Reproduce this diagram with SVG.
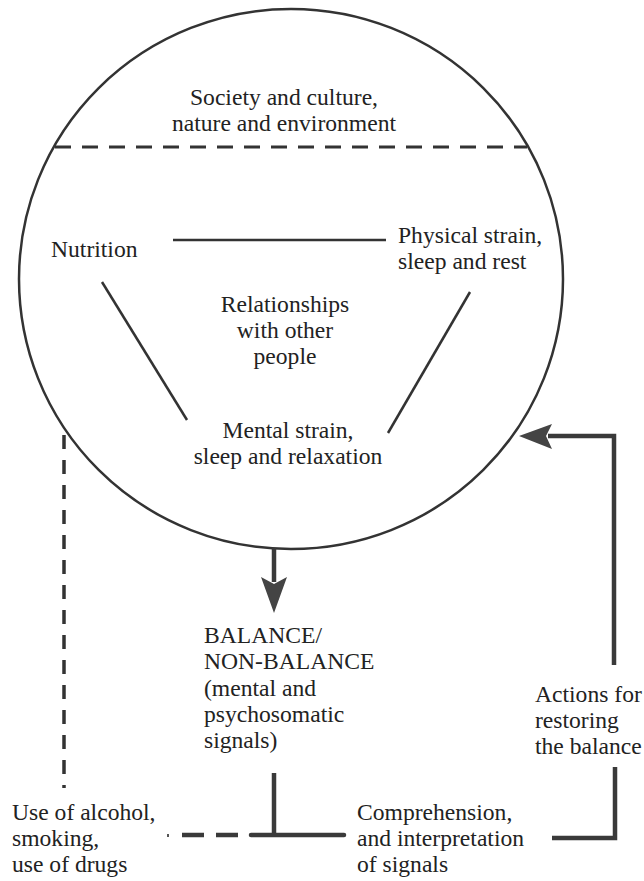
<svg xmlns="http://www.w3.org/2000/svg" width="644" height="881" viewBox="0 0 644 881">
<style>
text{font-family:"Liberation Serif","Times New Roman",serif;font-size:23.6px;fill:#222}
.c{text-anchor:middle}
.ln{stroke:#333;stroke-width:2.5;fill:none}
.th{stroke:#3a3a3a;stroke-width:4.5;fill:none}
.ds{stroke:#333;stroke-width:3.5;fill:none;stroke-dasharray:14 11}
.ah{fill:#444;stroke:none}
</style>
<rect width="644" height="881" fill="#fff"/>
<g id="circle">
<ellipse class="ln" cx="291" cy="279" rx="272" ry="270"/>
</g>
<g id="env">
<text class="c" x="284" y="105">Society and culture,</text>
<text class="c" x="284" y="131">nature and environment</text>
</g>
<g id="nutrition"><text x="51" y="257">Nutrition</text></g>
<g id="physical">
<text x="398" y="243">Physical strain,</text>
<text x="398" y="269">sleep and rest</text>
</g>
<g id="relationships">
<text class="c" x="285" y="312">Relationships</text>
<text class="c" x="285" y="338">with other</text>
<text class="c" x="285" y="364">people</text>
</g>
<g id="mental">
<text class="c" x="288" y="438">Mental strain,</text>
<text class="c" x="288" y="464">sleep and relaxation</text>
</g>
<g id="balance">
<text x="204" y="643">BALANCE/</text>
<text x="204" y="669">NON-BALANCE</text>
<text x="204" y="696">(mental and</text>
<text x="204" y="722">psychosomatic</text>
<text x="204" y="748">signals)</text>
</g>
<g id="actions">
<text x="535" y="702">Actions for</text>
<text x="535" y="728">restoring</text>
<text x="535" y="754">the balance</text>
</g>
<g id="alcohol">
<text x="12" y="820">Use of alcohol,</text>
<text x="12" y="846">smoking,</text>
<text x="12" y="872">use of drugs</text>
</g>
<g id="comprehension">
<text x="357" y="820">Comprehension,</text>
<text x="357" y="846">and interpretation</text>
<text x="357" y="872">of signals</text>
</g>
<g id="connectors">
<line x1="55" y1="147" x2="527" y2="147" stroke="#333" stroke-width="3" stroke-dasharray="16 11"/>
<line class="ln" x1="173" y1="240" x2="386" y2="240"/>
<line class="ln" x1="102" y1="282" x2="187" y2="420"/>
<line class="ln" x1="470" y1="292" x2="388" y2="433"/>
<line class="th" x1="274" y1="548" x2="274" y2="582"/>
<polygon class="ah" points="261,577 274,584 287,577 274,613"/>
<line class="ds" x1="64" y1="435" x2="64" y2="788"/>
<polyline class="th" points="614,665 614,436 548,436"/>
<polygon class="ah" points="519,436 552,424 546,436 552,449"/>
<polyline class="th" points="552,838 615,838 615,767"/>
<line class="th" x1="274" y1="773" x2="274" y2="835"/>
<line class="th" x1="251" y1="835" x2="344" y2="835" stroke-linecap="round"/>
<line class="th" x1="182" y1="835" x2="239" y2="835" stroke-dasharray="22 12"/>
<line stroke="#555" stroke-width="2" x1="168" y1="834" x2="168" y2="837"/>
</g>
</svg>
